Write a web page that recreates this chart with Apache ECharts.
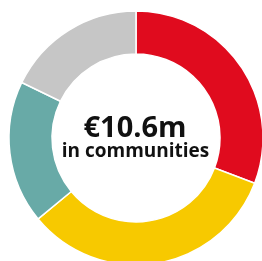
<!DOCTYPE html>
<html><head><meta charset="utf-8">
<script src="https://cdn.jsdelivr.net/npm/echarts@6/dist/echarts.min.js"></script>
<style>html,body{margin:0;padding:0;background:#fff}#c{width:262px;height:261px}</style>
</head><body><div id="c"></div>
<script>
const categories = ['A', 'B', 'C', 'D'];
const values = [30.8, 33.2, 18.2, 17.8];
const colors = ['#E00B1E', '#F7C900', '#68AAA7', '#C6C6C6'];
const centerTitle = '€10.6m';
const centerSub = 'in communities';

const chart = echarts.init(document.getElementById('c'), null, {renderer: 'canvas'});
chart.setOption({
  animation: false,
  series: [{
    type: 'pie',
    center: [136, 138],
    radius: [84, 127],
    startAngle: 90,
    clockwise: true,
    label: {show: false},
    labelLine: {show: false},
    emphasis: {disabled: true},
    itemStyle: {borderColor: '#fff', borderWidth: 1.5},
    data: categories.map((c, i) => ({name: c, value: values[i], itemStyle: {color: colors[i]}}))
  }],
  graphic: [
    {type: 'text', x: 135, y: 129, style: {text: centerTitle, font: 'bold 29px "Open Sans"', fill: '#111', align: 'center', verticalAlign: 'middle'}},
    {type: 'text', x: 135.5, y: 152, style: {text: centerSub, font: 'bold 19px "Open Sans"', fill: '#111', align: 'center', verticalAlign: 'middle'}}
  ]
});
</script></body></html>
